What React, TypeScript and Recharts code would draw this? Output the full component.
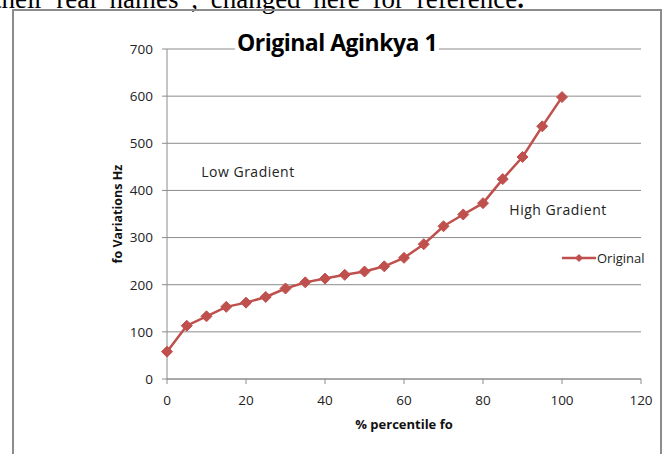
import { LineChart, Line, XAxis, YAxis, CartesianGrid, Legend, ReferenceDot, Label } from 'recharts';

// values
const percentiles = [0, 5, 10, 15, 20, 25, 30, 35, 40, 45, 50, 55, 60, 65, 70, 75, 80, 85, 90, 95, 100];
const foValues = [58, 113, 133, 153, 162, 174, 192, 205, 213, 221, 228, 239, 257, 286, 324, 349, 373, 424, 471, 536, 598];
const xTicks = [0, 20, 40, 60, 80, 100, 120];
const yTicks = [0, 100, 200, 300, 400, 500, 600, 700];

const seriesName = 'Original';
const chartTitle = 'Original Aginkya 1';
const xTitle = '% percentile fo';
const yTitle = 'fo Variations Hz';
const pageText = 'their real names , changed here for reference';

const RED = '#C0504D';
const GRID = '#8c8c8c';
const FONT = '"Open Sans", "Noto Sans", sans-serif';

const data = percentiles.map((p, i) => ({ pct: p, fo: foValues[i] }));

function Diamond(props: any) {
    const { cx, cy } = props;
    if (cx == null || cy == null) return null;
    const r = 5.5;
    return (
        <path
            d={`M${cx},${cy - r}L${cx + r},${cy}L${cx},${cy + r}L${cx - r},${cy}Z`}
            fill={RED}
            stroke={RED}
            strokeWidth={1}
        />
    );
}

// legend: short line with a diamond, then the name
function LegendBox() {
    return (
        <div style={{ display: 'flex', alignItems: 'center', fontFamily: FONT, fontSize: 13, color: '#222' }}>
            <svg width={34} height={14}>
                <line x1={0} y1={7} x2={34} y2={7} stroke={RED} strokeWidth={2.5} />
                <path d="M17,3L21,7L17,11L13,7Z" fill={RED} />
            </svg>
            <span style={{ marginLeft: 1 }}>{seriesName}</span>
        </div>
    );
}

function YTitle(props: any) {
    const vb = props.viewBox || {};
    const x = vb.x + 15;
    const y = vb.y + vb.height / 2;
    return (
        <text
            x={x}
            y={y}
            transform={`rotate(-90 ${x} ${y})`}
            textAnchor="middle"
            dominantBaseline="central"
            fontFamily={FONT}
            fontSize={12.5}
            fontWeight="bold"
            fill="#111"
        >
            {yTitle}
        </text>
    );
}

export default function App() {
    return (
        <div style={{ position: 'absolute', left: 0, top: 0, width: 665, height: 454, overflow: 'hidden', background: '#fff' }}>
            {/* bit of the document text above the chart */}
            <div
                style={{
                    position: 'absolute', left: -6, top: -14, whiteSpace: 'nowrap',
                    fontFamily: '"Liberation Serif", serif', fontSize: 27, lineHeight: '26px',
                    wordSpacing: 6, color: '#000',
                }}
            >
                {pageText}<b>.</b>
            </div>

            {/* chart frame */}
            <div
                style={{
                    position: 'absolute', left: 12, top: 9, width: 650, height: 470,
                    border: '2px solid #8c8c8c', boxSizing: 'border-box',
                }}
            />

            <div style={{ position: 'absolute', left: 12, top: 10 }}>
                <LineChart width={649} height={444} data={data} margin={{ top: 39, right: 20, left: 90, bottom: 15 }}>
                    <CartesianGrid horizontal={true} vertical={false} stroke={GRID} strokeWidth={1} />
                    <XAxis
                        type="number"
                        dataKey="pct"
                        domain={[0, 120]}
                        ticks={xTicks}
                        height={60}
                        stroke={GRID}
                        tickSize={5}
                        tickMargin={11}
                        tick={{ fill: '#222', fontSize: 13.5, fontFamily: FONT }}
                    >
                        <Label
                            value={xTitle}
                            position="insideBottom"
                            offset={10}
                            fill="#111"
                            fontSize={13}
                            fontWeight="bold"
                            fontFamily={FONT}
                        />
                    </XAxis>
                    <YAxis
                        type="number"
                        domain={[0, 700]}
                        ticks={yTicks}
                        width={65}
                        stroke={GRID}
                        tickSize={5}
                        tickMargin={9}
                        tick={{ fill: '#222', fontSize: 13.5, fontFamily: FONT }}
                    >
                        <Label content={<YTitle />} />
                    </YAxis>
                    <ReferenceDot
                        x={20.5}
                        y={440}
                        r={0}
                        fill="none"
                        stroke="none"
                        label={{ value: 'Low Gradient', position: 'center', fill: '#222', fontSize: 14, fontFamily: FONT, letterSpacing: 0.5 }}
                    />
                    <ReferenceDot
                        x={99}
                        y={358.5}
                        r={0}
                        fill="none"
                        stroke="none"
                        label={{ value: 'High Gradient', position: 'center', fill: '#222', fontSize: 14, fontFamily: FONT, letterSpacing: 0.5 }}
                    />
                    <Legend
                        layout="vertical"
                        align="center"
                        verticalAlign="middle"
                        content={<LegendBox />}
                        wrapperStyle={{ position: 'absolute', left: 550, top: 239, width: 'auto' }}
                    />
                    <Line
                        type="linear"
                        dataKey="fo"
                        name={seriesName}
                        stroke={RED}
                        strokeWidth={2.5}
                        dot={<Diamond />}
                        activeDot={false}
                        isAnimationActive={false}
                    />
                </LineChart>
            </div>

            {/* title sits on a white patch over the top gridline */}
            <div
                style={{
                    position: 'absolute', left: 337, top: 31, transform: 'translateX(-50%)',
                    background: '#fff', padding: '0 2px', whiteSpace: 'nowrap',
                    fontFamily: FONT, fontWeight: 'bold', fontSize: 23, lineHeight: '23px',
                    letterSpacing: -0.5, color: '#000',
                }}
            >
                {chartTitle}
            </div>
        </div>
    );
}
